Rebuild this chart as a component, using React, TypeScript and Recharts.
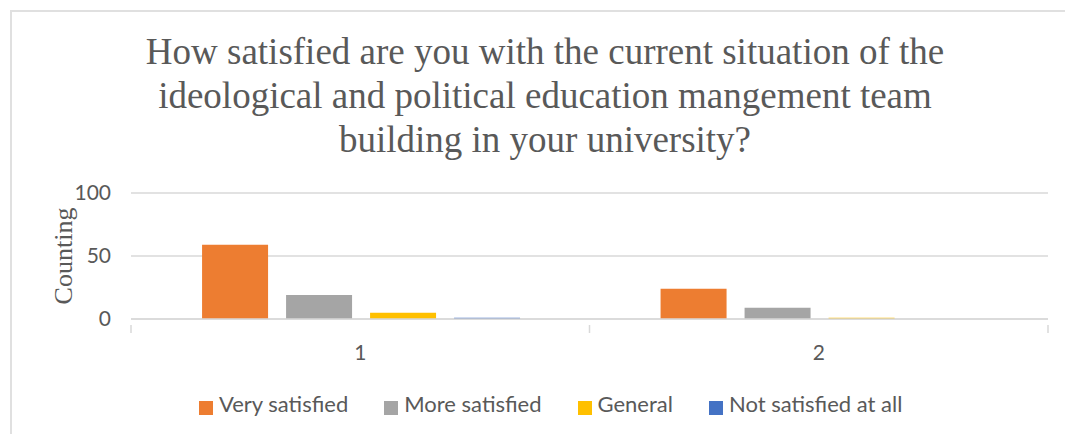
import { BarChart, Bar, XAxis, YAxis, CartesianGrid, Legend } from "recharts"

const groups = ["1", "2"]
const seriesNames = ["Very satisfied", "More satisfied", "General", "Not satisfied at all"]
const verySatisfied = [59, 24]
const moreSatisfied = [19, 9]
const general = [5, 1]
const notSatisfied = [1, 0]
const yTicks = [0, 50, 100]

const data = groups.map((g, i) => ({
  group: g,
  very: verySatisfied[i],
  more: moreSatisfied[i],
  general: general[i],
  not: notSatisfied[i],
}))

const W = 1065
const H = 434
const PLOT_LEFT = 131
const PLOT_RIGHT = 1048
const BAND = (PLOT_RIGHT - PLOT_LEFT) / groups.length
const X_TICK_MARGIN = 20

// category label plus the little boundary ticks excel draws between groups
function GroupTick(props: any) {
  const { x, y, payload, index } = props
  const axisY = y - X_TICK_MARGIN
  return (
    <g>
      {index === 0 && (
        <line x1={x - BAND / 2} y1={axisY} x2={x - BAND / 2} y2={axisY + 8} stroke="#d9d9d9" strokeWidth={1.5} />
      )}
      <line x1={x + BAND / 2} y1={axisY} x2={x + BAND / 2} y2={axisY + 8} stroke="#d9d9d9" strokeWidth={1.5} />
      <text x={x} y={y} dy="0.71em" textAnchor="middle" fill="#595959" fontSize={21} fontFamily="Lato">
        {payload.value}
      </text>
    </g>
  )
}

export default function App() {
  return (
    <div style={{ position: "absolute", left: 0, top: 0, width: W, height: H, background: "#fff", overflow: "hidden" }}>
      <div
        style={{
          position: "absolute",
          left: 10,
          top: 10,
          width: W,
          height: H,
          borderLeft: "2px solid #e0e0e0",
          borderTop: "2px solid #e0e0e0",
        }}
      />
      <div
        style={{
          position: "absolute",
          left: 95,
          width: 900,
          top: 30,
          textAlign: "center",
          fontFamily: "'Liberation Serif', serif",
          fontSize: 37,
          lineHeight: "44px",
          color: "#595959",
        }}
      >
        How satisfied are you with the current situation of the
        <br />
        ideological and political education mangement team
        <br />
        building in your university?
      </div>
      <div style={{ position: "absolute", left: 0, top: 0 }}>
        <BarChart
          width={W}
          height={H}
          data={data}
          margin={{ top: 193, right: W - PLOT_RIGHT, bottom: 17, left: 0 }}
          barCategoryGap="15.5%"
          barGap={18}
        >
          <CartesianGrid vertical={false} stroke="#d9d9d9" strokeWidth={1.5} />
          <YAxis
            width={PLOT_LEFT}
            domain={[0, 100]}
            ticks={yTicks}
            axisLine={false}
            tickLine={false}
            tickMargin={14}
            tick={{ fill: "#595959", fontSize: 21, fontFamily: "Lato" }}
            label={{
              value: "Counting",
              angle: -90,
              position: "center",
              dx: -3,
              fill: "#595959",
              fontSize: 26,
              fontFamily: "'Liberation Serif', serif",
            }}
          />
          <XAxis
            dataKey="group"
            height={71}
            axisLine={{ stroke: "#d9d9d9", strokeWidth: 1.5 }}
            tickLine={false}
            tickMargin={X_TICK_MARGIN}
            tick={<GroupTick />}
          />
          <Legend
            verticalAlign="bottom"
            iconType="square"
            iconSize={14}
            wrapperStyle={{ left: 199, width: "auto" }}
            itemSorter={(item: any) => seriesNames.indexOf(item.value)}
            formatter={(v) => (
              <span style={{ color: "#595959", fontSize: 22, fontFamily: "Lato", marginLeft: 2, marginRight: 26 }}>{v}</span>
            )}
          />
          <Bar dataKey="very" name={seriesNames[0]} fill="#ED7D31" isAnimationActive={false} />
          <Bar dataKey="more" name={seriesNames[1]} fill="#A5A5A5" isAnimationActive={false} />
          <Bar dataKey="general" name={seriesNames[2]} fill="#FFC000" isAnimationActive={false} />
          <Bar dataKey="not" name={seriesNames[3]} fill="#4472C4" isAnimationActive={false} />
        </BarChart>
      </div>
    </div>
  )
}
